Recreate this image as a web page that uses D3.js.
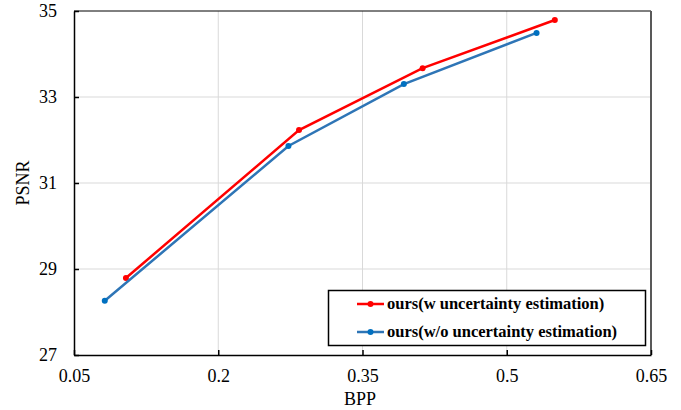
<!DOCTYPE html>
<html>
<head>
<meta charset="utf-8">
<script src="https://cdn.jsdelivr.net/npm/d3@7"></script>
<style>
  body { margin: 0; background: #fff; }
  svg text { font-family: 'Liberation Serif', 'Times New Roman', serif; }
</style>
</head>
<body>
<svg id="svg" width="681" height="410"></svg>
<script>
const bppWith = [0.104, 0.284, 0.4125, 0.55]
const psnrWith = [28.79, 32.23, 33.67, 34.79]
const bppWithout = [0.082, 0.273, 0.393, 0.531]
const psnrWithout = [28.26, 31.86, 33.30, 34.49]
const xTicks = [0.05, 0.2, 0.35, 0.5, 0.65]
const yTicks = [27, 29, 31, 33, 35]
const seriesNames = ['ours(w uncertainty estimation)', 'ours(w/o uncertainty estimation)']

const series = [
  { name: seriesNames[0], xs: bppWith, ys: psnrWith, line: '#ff0000', dot: '#ff0000' },
  { name: seriesNames[1], xs: bppWithout, ys: psnrWithout, line: '#2e75b6', dot: '#0070c0' }
]

const serif = "'Liberation Serif', 'Times New Roman', serif"
const svg = d3.select('#svg')
const pLeft = 74, pRight = 651, pTop = 11, pBottom = 355

const x = d3.scaleLinear().domain([0.05, 0.65]).range([pLeft, pRight])
const y = d3.scaleLinear().domain([27, 35]).range([pBottom, pTop])

// gridlines
svg.append('g').selectAll('line').data(xTicks.slice(1, -1)).enter().append('line')
  .attr('x1', d => x(d)).attr('x2', d => x(d))
  .attr('y1', pTop).attr('y2', pBottom)
  .attr('stroke', '#d9d9d9').attr('stroke-width', 1)
svg.append('g').selectAll('line').data(yTicks.slice(1, -1)).enter().append('line')
  .attr('x1', pLeft).attr('x2', pRight)
  .attr('y1', d => y(d)).attr('y2', d => y(d))
  .attr('stroke', '#d9d9d9').attr('stroke-width', 1)

// plot border
svg.append('line').attr('x1', pLeft).attr('x2', pRight).attr('y1', pTop).attr('y2', pTop)
  .attr('stroke', '#000').attr('stroke-width', 1)
svg.append('line').attr('x1', pRight).attr('x2', pRight).attr('y1', pTop).attr('y2', pBottom)
  .attr('stroke', '#595959').attr('stroke-width', 2)

// axes
const xAxis = d3.axisBottom(x).tickValues(xTicks).tickSizeInner(-5).tickSizeOuter(0)
  .tickFormat(d => String(d))
const gx = svg.append('g').attr('transform', `translate(0,${pBottom})`).call(xAxis)
  .attr('font-family', serif).attr('font-size', 18)
gx.select('.domain').attr('stroke', '#000').attr('stroke-width', 1.5)
gx.selectAll('.tick line').attr('stroke', '#000').attr('stroke-width', 1.5)
gx.selectAll('.tick text').attr('y', 14).attr('fill', '#000')

const yAxis = d3.axisLeft(y).tickValues(yTicks).tickSizeInner(-5).tickSizeOuter(0)
const gy = svg.append('g').attr('transform', `translate(${pLeft},0)`).call(yAxis)
  .attr('font-family', serif).attr('font-size', 18)
gy.select('.domain').attr('stroke', '#000').attr('stroke-width', 1.5)
gy.selectAll('.tick line').attr('stroke', '#000').attr('stroke-width', 1.5)
gy.selectAll('.tick text').attr('x', -17).attr('fill', '#000')

// axis titles
svg.append('text').text('BPP')
  .attr('x', 360).attr('y', 405)
  .attr('text-anchor', 'middle').attr('font-size', 18)
svg.append('text').text('PSNR')
  .attr('transform', `translate(29,${(pTop + pBottom) / 2}) rotate(-90)`)
  .attr('text-anchor', 'middle').attr('font-size', 18)

// series
const line = d3.line().x(d => x(d[0])).y(d => y(d[1]))
series.forEach(s => {
  const pts = s.xs.map((v, i) => [v, s.ys[i]])
  svg.append('path').attr('d', line(pts))
    .attr('fill', 'none').attr('stroke', s.line).attr('stroke-width', 2.5)
  svg.append('g').selectAll('circle').data(pts).enter().append('circle')
    .attr('cx', d => x(d[0])).attr('cy', d => y(d[1])).attr('r', 3)
    .attr('fill', s.dot)
})

// legend
const lg = svg.append('g')
lg.append('rect').attr('x', 328.5).attr('y', 290.5).attr('width', 317).attr('height', 55)
  .attr('fill', '#fff').attr('stroke', '#000').attr('stroke-width', 1.5)
series.forEach((s, i) => {
  const ly = 304 + i * 28
  lg.append('line').attr('x1', 357).attr('x2', 384).attr('y1', ly).attr('y2', ly)
    .attr('stroke', s.line).attr('stroke-width', 2.5)
  lg.append('circle').attr('cx', 370.5).attr('cy', ly).attr('r', 3).attr('fill', s.dot)
  lg.append('text').text(s.name).attr('x', 387).attr('y', ly + 5)
    .attr('font-size', 16.5).attr('font-weight', 'bold')
})
</script>
</body>
</html>
